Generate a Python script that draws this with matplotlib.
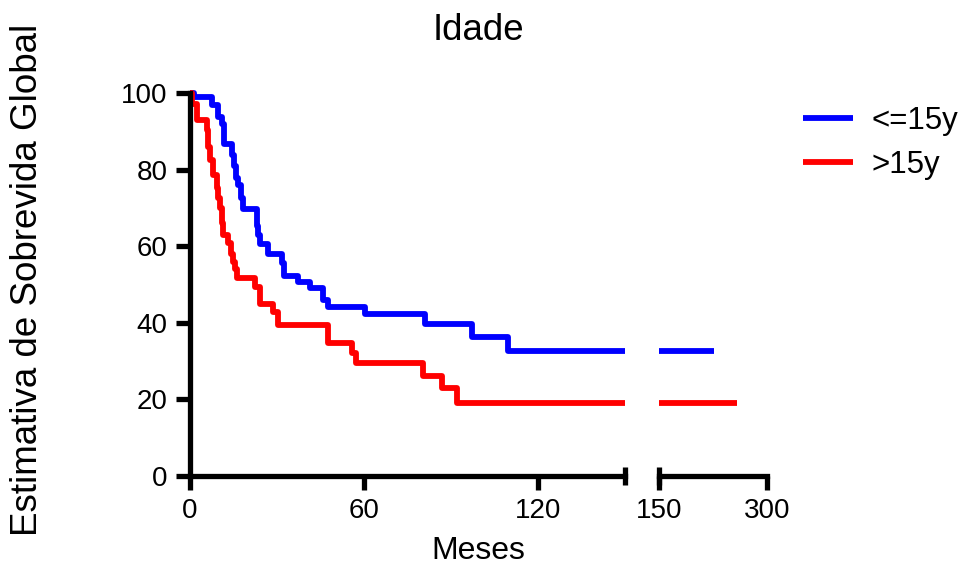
import matplotlib
matplotlib.use("Agg")
import matplotlib.pyplot as plt
from matplotlib.transforms import Bbox, TransformedBbox

plt.rcParams["font.family"] = ["Liberation Sans", "DejaVu Sans"]

# Kaplan-Meier steps (months, % survival)
blue_label = "<=15y"
blue_t = [0, 1.5, 7.5, 9.5, 11.2, 11.7, 14.5, 15.2, 15.9, 16.6, 17.5, 18.3,
          23.0, 23.6, 24.3, 26.9, 31.6, 32.3, 37.2, 41.4, 45.9, 47.6,
          60.3, 81.0, 97.1, 109.7]
blue_s = [100, 99.0, 96.8, 93.7, 91.9, 86.7, 83.9, 81.0, 77.8, 76.0, 72.5, 69.7,
          65.3, 63.0, 60.5, 58.0, 55.5, 52.3, 50.7, 49.0, 46.0, 44.0,
          42.3, 39.6, 36.4, 32.7]
blue_end = 226

red_label = ">15y"
red_t = [0, 0.6, 2.4, 5.9, 6.3, 6.9, 7.9, 9.2, 9.7, 10.3, 11.0, 11.4, 13.1,
         14.1, 14.8, 15.5, 16.1, 22.4, 24.1, 28.7, 30.4, 47.5, 55.8, 57.2,
         80.4, 86.8, 92.0]
red_s = [100, 97.0, 93.0, 90.4, 86.0, 82.6, 78.7, 75.2, 72.6, 70.0, 66.0, 62.9, 60.8,
         58.0, 56.0, 54.0, 51.6, 49.4, 44.9, 42.9, 39.4, 34.6, 32.2, 29.4,
         26.2, 22.9, 19.1]
red_end = 258

y_ticks = [0, 20, 40, 60, 80, 100]
x_ticks_left = [0, 60, 120]
x_ticks_right = [150, 300]

LW = 4.2      # curves
AXW = 3.8     # axis lines
W, H = 963, 570
fig = plt.figure(figsize=(W / 100, H / 100), dpi=100)

ax1 = fig.add_axes([190 / W, 1 - 476 / H, 435 / W, 383 / H])
ax2 = fig.add_axes([659 / W, 1 - 476 / H, 108 / W, 383 / H])

for ax, lim in [(ax1, (0, 150)), (ax2, (150, 300))]:
    for t, s, end, col, lab in [(blue_t, blue_s, blue_end, "#0000ff", blue_label),
                                (red_t, red_s, red_end, "#ff0000", red_label)]:
        line, = ax.plot(t + [end], s + [s[-1]], drawstyle="steps-post",
                        color=col, lw=LW, solid_capstyle="butt", label=lab)
        line.set_clip_box(TransformedBbox(Bbox([[0, -0.1], [1, 1.1]]), ax.transAxes))
    ax.set_xlim(*lim)
    ax.set_ylim(0, 100)
    ax.spines["top"].set_visible(False)
    ax.spines["right"].set_visible(False)
    ax.spines["bottom"].set_linewidth(AXW)
    ax.spines["left"].set_linewidth(AXW)
    ax.tick_params(axis="both", direction="out", length=10, width=AXW,
                   labelsize=20, pad=6)
    ax.set_facecolor("none")

ax1.set_yticks(y_ticks)
ax1.set_xticks(x_ticks_left)
ax2.set_xticks(x_ticks_right)
ax2.spines["left"].set_visible(False)
ax2.set_yticks([])

# break marks at the ends of the two segments
ax1.plot([150], [0], marker="|", ms=13, mew=AXW, color="black", clip_on=False)
ax2.plot([150], [0], marker="|", ms=13, mew=AXW, color="black", clip_on=False)

fig.text(478 / W, 1 - 31 / H, "Idade", ha="center", va="center", fontsize=26.5)
fig.text(478 / W, 1 - 551 / H, "Meses", ha="center", va="center", fontsize=23)
fig.text(28 / W, 1 - 280 / H, "Estimativa de Sobrevida Global", ha="center",
         va="center", rotation=90, fontsize=26.5)

handles, labels = ax1.get_legend_handles_labels()
fig.legend(handles, labels, loc="upper left", bbox_to_anchor=(803 / W, 1 - 106 / H),
           frameon=False, fontsize=22.5, handlelength=1.6, handletextpad=0.6,
           borderpad=0, borderaxespad=0, labelspacing=0.44)

fig.savefig("out.png", dpi=100)
